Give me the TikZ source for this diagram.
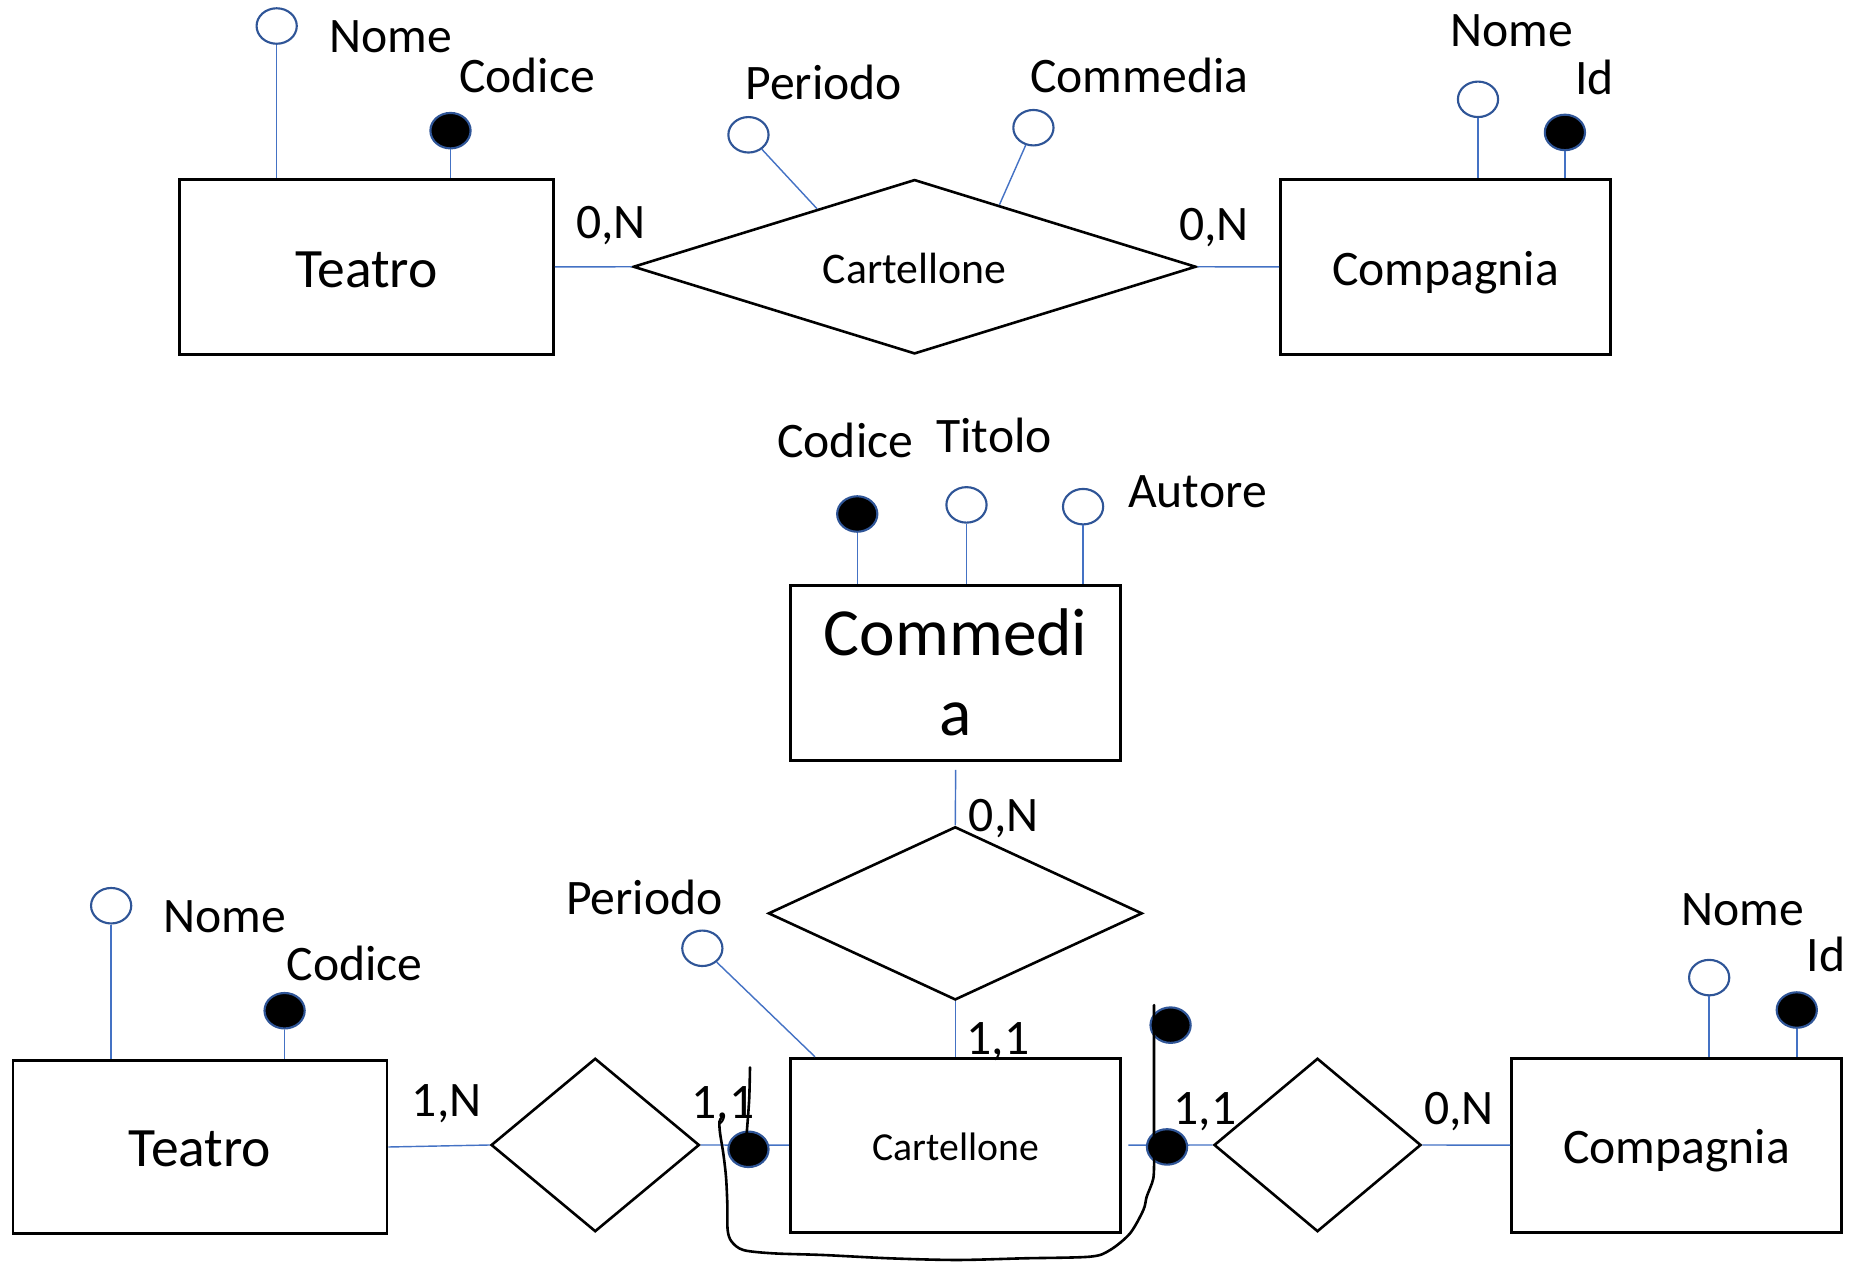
\documentclass[tikz,border=0pt]{standalone}
\usepackage{fontspec}
\setmainfont{Carlito}
\usetikzlibrary{shapes.geometric,calc}
\definecolor{lineblue}{HTML}{4472C4}
\definecolor{circblue}{HTML}{2F5597}
\begin{document}
\begin{tikzpicture}[x=0.5pt,y=-0.5pt,
  ent/.style={draw=black,line width=1.25pt,rectangle,inner sep=0pt,text depth=0pt},
  rel/.style={draw=black,line width=1.1pt,diamond,inner sep=0pt,text depth=0pt},
  attr/.style={draw=circblue,line width=0.9pt,ellipse,minimum width=17pt,minimum height=15pt,inner sep=0pt},
  keyattr/.style={attr,fill=black},
  conn/.style={draw=lineblue,line width=0.6pt},
  lbl/.style={anchor=base west,inner sep=0pt,font=\fontsize{21}{25}\selectfont},
  hand/.style={draw=black,line width=1.1pt,line cap=round,line join=round}]
\useasboundingbox (0,0) rectangle (1568,1070.7);

% ---------------- top diagram ----------------
\node[ent,minimum width=158.2pt,minimum height=73.75pt,text height=17pt,font=\fontsize{23.5}{28}\selectfont] (teatroA) at (309.8,225.75) {Teatro};
\node[ent,minimum width=139.5pt,minimum height=73.75pt,text height=15.3pt,font=\fontsize{21}{25}\selectfont] (compA) at (1222.5,225.75) {Compagnia};
\node[rel,aspect=3.2,minimum width=238pt,minimum height=73.75pt,text height=14.4pt,font=\fontsize{18.5}{22}\selectfont] (cartA) at (773.5,225.6) {Cartellone};

\node[attr] (aNomeT) at (234,22) {};
\node[keyattr] (aCodT) at (381,110.5) {};
\node[attr] (aPerA) at (633,114) {};
\node[attr] (aComA) at (874,108) {};
\node[attr] (aNomeC) at (1250,84) {};
\node[keyattr] (aIdC) at (1323.5,112) {};

\draw[conn] (aNomeT) -- (aNomeT |- teatroA.north);
\draw[conn] (aCodT) -- (aCodT |- teatroA.north);
\draw[conn] (aPerA) -- ($(cartA.west)!0.655!(cartA.north)$);
\draw[conn] (aComA) -- ($(cartA.north)!0.3!(cartA.east)$);
\draw[conn] (aNomeC) -- (aNomeC |- compA.north);
\draw[conn] (aIdC) -- (aIdC |- compA.north);
\draw[conn] (teatroA.east) -- (cartA.west);
\draw[conn] (cartA.east) -- (compA.west);

\node[lbl] (lNomeT) at (278,44) {Nome};
\node[lbl] (lCodT) at (388,78) {Codice};
\node[lbl] (lPerA) at (630,84) {Periodo};
\node[lbl] (lComA) at (871,78) {Commedia};
\node[lbl] (lNomeC) at (1226,39.5) {Nome};
\node[lbl] (lIdC) at (1332,80) {Id};
\node[lbl] (lcA1) at (487,202) {0,N};
\node[lbl] (lcA2) at (997,203) {0,N};

% ---------------- middle ----------------
\node[ent,minimum width=139.75pt,minimum height=74pt,align=center,font=\fontsize{28.5}{33.8}\selectfont] (comm) at (808.25,568.8) {Commedi\\a};
\node[keyattr] (aCodM) at (725,434.7) {};
\node[attr] (aTitM) at (817.4,427) {};
\node[attr] (aAutM) at (916,428.5) {};
\draw[conn] (aCodM) -- (aCodM |- comm.north);
\draw[conn] (aTitM) -- (aTitM |- comm.north);
\draw[conn] (aAutM) -- (aAutM |- comm.north);
\node[lbl] (lCodM) at (657,386.6) {Codice};
\node[lbl] (lTitM) at (791.5,383) {Titolo};
\node[lbl] (lAutM) at (953.7,429) {Autore};

\node[rel,minimum width=158.1pt,minimum height=73.25pt] (relC) at (807.9,772.45) {};
\draw[conn] ([yshift=-3.5pt]comm.south) -- (relC.north);
\node[lbl] (lcC1) at (819,703.4) {0,N};

% ---------------- bottom diagram ----------------
\node[ent,minimum width=158.15pt,minimum height=73.55pt,text height=16.7pt,font=\fontsize{23.5}{28}\selectfont] (teatroB) at (169.15,970.05) {Teatro};
\node[rel,minimum width=88.1pt,minimum height=73.35pt] (relA) at (503.4,968.35) {};
\node[ent,minimum width=139.75pt,minimum height=73.5pt,text height=13.1pt,font=\fontsize{16.8}{20}\selectfont] (cartB) at (808.25,968.5) {Cartellone};
\node[rel,minimum width=87.55pt,minimum height=73.35pt] (relB) at (1114.25,968.35) {};
\node[ent,minimum width=139.65pt,minimum height=73.5pt,text height=15.5pt,font=\fontsize{21}{25}\selectfont] (compB) at (1418.05,968.5) {Compagnia};

\draw[conn] (relC.south) -- (relC.south |- cartB.north);
\node[lbl] (lcC2) at (817,892) {1,1};

\node[attr] (aNomeTB) at (94,766) {};
\node[keyattr] (aCodTB) at (240.7,854.8) {};
\node[attr] (aPerB) at (594,802) {};
\node[attr] (aNomeCB) at (1445.5,826.8) {};
\node[keyattr] (aIdCB) at (1519.6,854.2) {};

\draw[conn] (aNomeTB) -- (aNomeTB |- teatroB.north);
\draw[conn] (aCodTB) -- (aCodTB |- teatroB.north);
\draw[conn] (aPerB) -- ([xshift=11pt]cartB.north west);
\draw[conn] (aNomeCB) -- (aNomeCB |- compB.north);
\draw[conn] (aIdCB) -- (aIdCB |- compB.north);

\draw[conn] (teatroB.east) -- (relA.west);
\draw[conn] (relA.east) -- (cartB.west);
\draw[conn] ([xshift=2.5pt]cartB.east) -- (relB.west);
\draw[conn] (relB.east) -- (compB.west);

\node[keyattr] (dotL) at (633,972) {};
\node[keyattr] (dotR) at (987,970) {};
\node[keyattr] (dotU) at (990,867) {};

\node[lbl] (lNomeTB) at (138,789) {Nome};
\node[lbl] (lCodTB) at (242,829.4) {Codice};
\node[lbl] (lPerB) at (478.4,773.8) {Periodo};
\node[lbl] (lcB1) at (348,944.4) {1,N};
\node[lbl] (lcB2) at (584.5,945.8) {1,1};
\node[lbl] (lcB3) at (992,951.4) {1,1};
\node[lbl] (lcB4) at (1204,951.4) {0,N};
\node[lbl] (lNomeCB) at (1421.5,782.3) {Nome};
\node[lbl] (lIdCB) at (1527.6,821.8) {Id};

% hand-drawn strokes
\draw[hand] plot[smooth,tension=0.5] coordinates {(610.3,945.3) (608.4,948.7) (609,958.5) (611.7,975.4) (614,995.2) (615.1,1017.7) (615.4,1040.3) (618.8,1050.1) (628.7,1057.2) (654,1060) (696.3,1061.4) (752.7,1064.2) (809.1,1065.6) (865.5,1064.2) (921.9,1062.8) (938.8,1057.2) (955.7,1043.1) (967,1023.3) (969.8,1012.1) (975.4,996.6) (976,978.3)} -- (976,850);
\draw[hand] plot[smooth] coordinates {(634.3,902.7) (633.6,930) (631.5,958.5)};
\end{tikzpicture}
\end{document}
